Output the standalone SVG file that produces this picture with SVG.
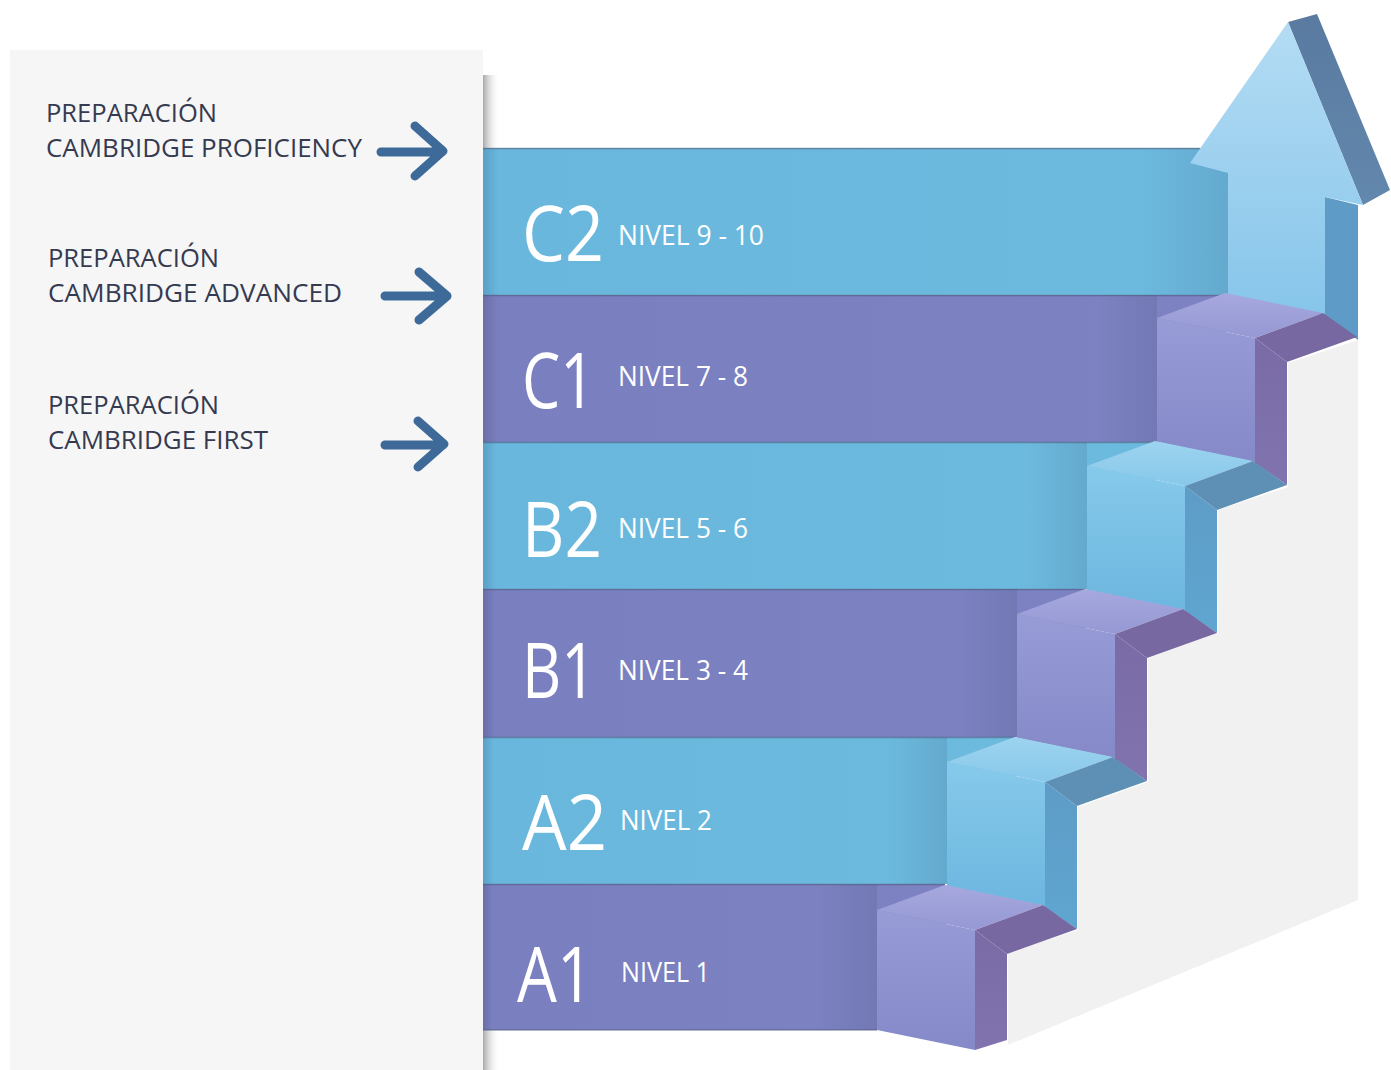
<svg xmlns="http://www.w3.org/2000/svg" width="1391" height="1070" viewBox="0 0 1391 1070">
<defs>
<style>
.lbl{font-family:"Open Sans","Liberation Sans",sans-serif;font-size:25px;fill:#353a50}
.big{font-family:"Open Sans","Liberation Sans",sans-serif;font-size:76px;fill:#ffffff}
.niv{font-family:"Open Sans","Liberation Sans",sans-serif;font-size:28px;fill:#ffffff}
.conn{fill:none;stroke:#3d6a98;stroke-width:9;stroke-linecap:round;stroke-linejoin:round}
.bline{stroke:#4d5a78;stroke-width:1.5;opacity:0.55}
</style>
<linearGradient id="bandB" x1="0" y1="0" x2="1" y2="0">
<stop offset="0" stop-color="#5a9fc6"/><stop offset="0.02" stop-color="#6ab7dd"/><stop offset="1" stop-color="#6dbadf"/>
</linearGradient>
<linearGradient id="bandP" x1="0" y1="0" x2="1" y2="0">
<stop offset="0" stop-color="#6a6ea8"/><stop offset="0.02" stop-color="#7a7fbf"/><stop offset="1" stop-color="#7d82c2"/>
</linearGradient>
<linearGradient id="endShade" x1="0" y1="0" x2="1" y2="0">
<stop offset="0" stop-color="#283c5a" stop-opacity="0"/><stop offset="1" stop-color="#283c5a" stop-opacity="0.13"/>
</linearGradient>
<linearGradient id="fB" x1="0" y1="0" x2="0" y2="1"><stop offset="0" stop-color="#86caeb"/><stop offset="1" stop-color="#6db6df"/></linearGradient>
<linearGradient id="tB" x1="0" y1="0" x2="0" y2="1"><stop offset="0" stop-color="#9dd3ef"/><stop offset="1" stop-color="#88c8ea"/></linearGradient>
<linearGradient id="sB" x1="0" y1="0" x2="0" y2="1"><stop offset="0" stop-color="#5d9cc6"/><stop offset="1" stop-color="#5fa6d1"/></linearGradient>
<linearGradient id="fP" x1="0" y1="0" x2="0" y2="1"><stop offset="0" stop-color="#979bd6"/><stop offset="1" stop-color="#8589c8"/></linearGradient>
<linearGradient id="tP" x1="0" y1="0" x2="0" y2="1"><stop offset="0" stop-color="#a6a8de"/><stop offset="1" stop-color="#9598d3"/></linearGradient>
<linearGradient id="sP" x1="0" y1="0" x2="0" y2="1"><stop offset="0" stop-color="#7a6ba6"/><stop offset="1" stop-color="#8073ae"/></linearGradient>
<linearGradient id="arF" x1="0" y1="0" x2="0" y2="1"><stop offset="0" stop-color="#b4dcf4"/><stop offset="1" stop-color="#86c5ea"/></linearGradient>
<linearGradient id="arS" x1="0" y1="0" x2="0" y2="1"><stop offset="0" stop-color="#5a7aa0"/><stop offset="1" stop-color="#6388ad"/></linearGradient>
<linearGradient id="panelSh" x1="0" y1="0" x2="1" y2="0">
<stop offset="0" stop-color="#a9a9ad"/><stop offset="1" stop-color="#f6f6f6" stop-opacity="0"/>
</linearGradient>
</defs>

<rect width="1391" height="1070" fill="#ffffff"/>
<rect x="10" y="50" width="473" height="1020" fill="#f6f6f6"/>
<rect x="483" y="75" width="16" height="73" fill="url(#panelSh)"/>
<rect x="483" y="1030" width="16" height="40" fill="url(#panelSh)"/>
<polygon points="1358,340 1288,363 1288,487 1218,510 1218,633 1148,658 1148,782 1078,807 1078,930 1008,953 1008,1045 1358,900" fill="#f1f1f2"/>

<g id="band-c2">
<rect x="483" y="148" width="760" height="147" fill="url(#bandB)"/>
<rect x="1140" y="148" width="88" height="147" fill="url(#endShade)"/>
<line class="bline" x1="483" y1="148.5" x2="1200" y2="148.5"/>
<text class="big" x="522" y="261" textLength="82" lengthAdjust="spacingAndGlyphs">C2</text>
<text class="niv" x="618" y="245" textLength="146" lengthAdjust="spacingAndGlyphs">NIVEL 9 - 10</text>
</g>
<g id="band-c1">
<rect x="483" y="295" width="742" height="147" fill="url(#bandP)"/>
<rect x="1097" y="295" width="60" height="147" fill="url(#endShade)"/>
<line class="bline" x1="483" y1="295.5" x2="1225" y2="295.5"/>
<text class="big" x="522" y="408" textLength="73" lengthAdjust="spacingAndGlyphs">C1</text>
<text class="niv" x="618" y="386" textLength="130" lengthAdjust="spacingAndGlyphs">NIVEL 7 - 8</text>
</g>
<g id="band-b2">
<rect x="483" y="442" width="672" height="147" fill="url(#bandB)"/>
<rect x="1027" y="442" width="60" height="147" fill="url(#endShade)"/>
<line class="bline" x1="483" y1="442.5" x2="1155" y2="442.5"/>
<text class="big" x="522" y="557" textLength="80" lengthAdjust="spacingAndGlyphs">B2</text>
<text class="niv" x="618" y="538" textLength="130" lengthAdjust="spacingAndGlyphs">NIVEL 5 - 6</text>
</g>
<g id="band-b1">
<rect x="483" y="589" width="602" height="148" fill="url(#bandP)"/>
<rect x="957" y="589" width="60" height="148" fill="url(#endShade)"/>
<line class="bline" x1="483" y1="589.5" x2="1085" y2="589.5"/>
<text class="big" x="522" y="698" textLength="74" lengthAdjust="spacingAndGlyphs">B1</text>
<text class="niv" x="618" y="680" textLength="130" lengthAdjust="spacingAndGlyphs">NIVEL 3 - 4</text>
</g>
<g id="band-a2">
<rect x="483" y="737" width="532" height="147" fill="url(#bandB)"/>
<rect x="887" y="737" width="60" height="147" fill="url(#endShade)"/>
<line class="bline" x1="483" y1="737.5" x2="1015" y2="737.5"/>
<text class="big" x="522" y="850" textLength="85" lengthAdjust="spacingAndGlyphs">A2</text>
<text class="niv" x="620" y="830" textLength="92" lengthAdjust="spacingAndGlyphs">NIVEL 2</text>
</g>
<g id="band-a1">
<rect x="483" y="884" width="462" height="146" fill="url(#bandP)"/>
<rect x="817" y="884" width="60" height="146" fill="url(#endShade)"/>
<line class="bline" x1="483" y1="884.5" x2="945" y2="884.5"/>
<line class="bline" x1="483" y1="1030" x2="877" y2="1030"/>
<text class="big" x="517" y="1002" textLength="76" lengthAdjust="spacingAndGlyphs">A1</text>
<text class="niv" x="621" y="982" textLength="89" lengthAdjust="spacingAndGlyphs">NIVEL 1</text>
</g>

<g id="arrow-up">
<polygon points="1325,197 1358,205 1358,340 1325,316" fill="#5e9cc7"/>
<polygon points="1288,22 1317,14 1390,190 1363,205" fill="url(#arS)"/>
<polygon points="1228,295 1228,173 1190,163 1288,22 1363,205 1325,197 1325,316" fill="url(#arF)"/>
</g>

<g id="step-c1">
<polygon points="1255,338 1287,362 1287,485 1255,463" fill="url(#sP)"/>
<polygon points="1157,318 1255,338 1255,462 1157,442" fill="url(#fP)"/>
<polygon points="1157,318 1225,293 1323,313 1255,338" fill="url(#tP)"/>
<polygon points="1255,338 1323,313 1357,337 1287,362" fill="#7768a1"/>
</g>
<g id="step-b2">
<polygon points="1185,486 1217,510 1217,633 1185,611" fill="url(#sB)"/>
<polygon points="1087,466 1185,486 1185,610 1087,590" fill="url(#fB)"/>
<polygon points="1087,466 1155,441 1253,461 1185,486" fill="url(#tB)"/>
<polygon points="1185,486 1253,461 1287,485 1217,510" fill="#5e8fb4"/>
</g>
<g id="step-b1">
<polygon points="1115,634 1147,658 1147,781 1115,759" fill="url(#sP)"/>
<polygon points="1017,614 1115,634 1115,758 1017,738" fill="url(#fP)"/>
<polygon points="1017,614 1085,589 1183,609 1115,634" fill="url(#tP)"/>
<polygon points="1115,634 1183,609 1217,633 1147,658" fill="#7768a1"/>
</g>
<g id="step-a2">
<polygon points="1045,782 1077,806 1077,929 1045,907" fill="url(#sB)"/>
<polygon points="947,762 1045,782 1045,906 947,886" fill="url(#fB)"/>
<polygon points="947,762 1015,737 1113,757 1045,782" fill="url(#tB)"/>
<polygon points="1045,782 1113,757 1147,781 1077,806" fill="#5e8fb4"/>
</g>
<g id="step-a1">
<polygon points="975,930 1007,954 1007,1040 975,1050" fill="url(#sP)"/>
<polygon points="877,910 975,930 975,1050 877,1030" fill="url(#fP)"/>
<polygon points="877,910 945,885 1043,905 975,930" fill="url(#tP)"/>
<polygon points="975,930 1043,905 1077,929 1007,954" fill="#7768a1"/>
</g>

<g id="label-proficiency">
<text class="lbl" x="46" y="122" textLength="171" lengthAdjust="spacingAndGlyphs">PREPARACIÓN</text>
<text class="lbl" x="46" y="157" textLength="316" lengthAdjust="spacingAndGlyphs">CAMBRIDGE PROFICIENCY</text>
</g>
<g id="label-advanced">
<text class="lbl" x="48" y="267" textLength="171" lengthAdjust="spacingAndGlyphs">PREPARACIÓN</text>
<text class="lbl" x="48" y="302" textLength="294" lengthAdjust="spacingAndGlyphs">CAMBRIDGE ADVANCED</text>
</g>
<g id="label-first">
<text class="lbl" x="48" y="414" textLength="171" lengthAdjust="spacingAndGlyphs">PREPARACIÓN</text>
<text class="lbl" x="48" y="449" textLength="220" lengthAdjust="spacingAndGlyphs">CAMBRIDGE FIRST</text>
</g>

<g id="connectors">
<path class="conn" d="M381 152 H442 M415 126 L443 151 L415 176"/>
<path class="conn" d="M385 296 H446 M419 272 L447 296 L419 320"/>
<path class="conn" d="M385 445 H443 M418 421 L444 444 L418 467"/>
</g>
</svg>
